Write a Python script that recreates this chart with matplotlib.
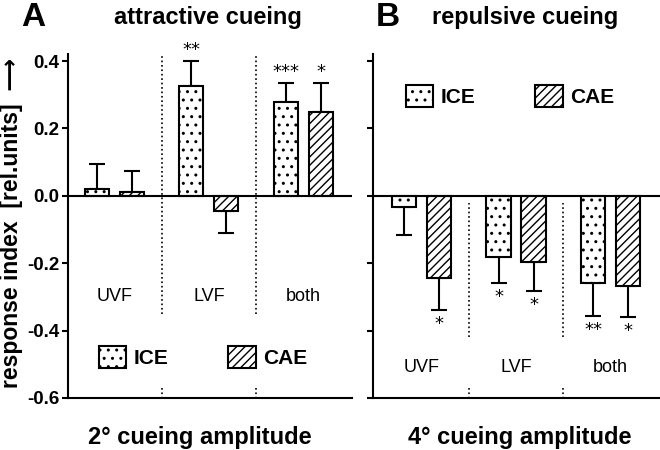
import numpy as np
import matplotlib
matplotlib.use("Agg")
import matplotlib.pyplot as plt
from matplotlib.patches import Patch

plt.rcParams["font.family"] = ["Liberation Sans", "DejaVu Sans"]
plt.rcParams["hatch.linewidth"] = 1.0

# ── data ──────────────────────────────────────────────────────────────────────
groups = ["UVF", "LVF", "both"]

att_ice     = [0.020, 0.326, 0.278]
att_ice_err = [0.075, 0.074, 0.057]
att_cae     = [0.012, -0.045, 0.250]
att_cae_err = [0.062, 0.065, 0.085]
att_ice_sig = ["", "**", "***"]
att_cae_sig = ["", "", "*"]

rep_ice     = [-0.033, -0.181, -0.258]
rep_ice_err = [0.082, 0.077, 0.100]
rep_cae     = [-0.243, -0.196, -0.267]
rep_cae_err = [0.095, 0.086, 0.094]
rep_ice_sig = ["", "*", "**"]
rep_cae_sig = ["*", "*", "*"]

# ── layout ────────────────────────────────────────────────────────────────────
GAP = 2.7
W = 0.69
x_ice = np.arange(3) * GAP
x_cae = x_ice + 1.0
x_div = (x_cae[:-1] + x_ice[1:]) / 2
YLIM = (-0.6, 0.42)
LW = 1.5

fig = plt.figure(figsize=(6.6, 4.5), dpi=100)
axA = fig.add_axes([0.103, 0.1156, 0.430, 0.7638])
axB = fig.add_axes([0.565, 0.1156, 0.435, 0.7638])


def draw_panel(ax, ice, ice_err, cae, cae_err, xlim):
    for xs, vals, errs, hatch in [(x_ice, ice, ice_err, ".."),
                                  (x_cae, cae, cae_err, "////")]:
        ax.bar(xs, vals, width=W, color="white", edgecolor="black",
               linewidth=LW, hatch=hatch, zorder=3)
        vals = np.array(vals)
        errs = np.array(errs)
        lower = np.where(vals < 0, errs, 0)
        upper = np.where(vals >= 0, errs, 0)
        ax.errorbar(xs, vals, yerr=[lower, upper], fmt="none",
                    ecolor="black", elinewidth=LW, capsize=6,
                    capthick=LW, zorder=2)
    ax.axhline(0, color="black", linewidth=LW, zorder=4)
    ax.set_xlim(*xlim)
    ax.set_ylim(*YLIM)
    ax.set_yticks([-0.6, -0.4, -0.2, 0.0, 0.2, 0.4])
    for s in ["top", "right"]:
        ax.spines[s].set_visible(False)
    for s in ["left", "bottom"]:
        ax.spines[s].set_linewidth(LW)
    ax.set_xticks([])
    ax.tick_params(axis="y", direction="out", length=4, width=LW, pad=2)


def stars(ax, xs, vals, errs, marks, fs=13):
    for x, v, e, m in zip(xs, vals, errs, marks):
        if not m:
            continue
        if v >= 0:
            ax.text(x, v + e + 0.005, m, ha="center", va="bottom",
                    fontsize=fs, family="DejaVu Sans")
        else:
            ax.text(x, v - e - 0.015, m, ha="center", va="top",
                    fontsize=fs, family="DejaVu Sans")


# ── Panel A ───────────────────────────────────────────────────────────────────
draw_panel(axA, att_ice, att_ice_err, att_cae, att_cae_err, (-0.83, 7.29))
axA.set_yticklabels(["-0.6", "-0.4", "-0.2", "0.0", "0.2", "0.4"],
                    fontsize=13.5, fontweight="bold")
stars(axA, x_ice, att_ice, att_ice_err, att_ice_sig)
stars(axA, x_cae, att_cae, att_cae_err, att_cae_sig)
for xd in x_div:
    axA.plot([xd, xd], [-0.35, 0.415], color="black", linestyle=":",
             linewidth=1.2, zorder=1)
    axA.plot([xd, xd], [-0.57, -0.6], color="black", linestyle=":",
             linewidth=1.2, zorder=1)
for xi, g in zip(x_ice, groups):
    axA.text(xi + 0.5, -0.3, g, ha="center", va="center", fontsize=13)

# ── Panel B ───────────────────────────────────────────────────────────────────
draw_panel(axB, rep_ice, rep_ice_err, rep_cae, rep_cae_err, (-0.886, 7.31))
axB.set_yticklabels([])
stars(axB, x_ice, rep_ice, rep_ice_err, rep_ice_sig)
stars(axB, x_cae, rep_cae, rep_cae_err, rep_cae_sig)
for xd in x_div:
    axB.plot([xd, xd], [-0.42, -0.02], color="black", linestyle=":",
             linewidth=1.2, zorder=1)
    axB.plot([xd, xd], [-0.57, -0.6], color="black", linestyle=":",
             linewidth=1.2, zorder=1)
for xi, g in zip(x_ice, groups):
    axB.text(xi + 0.5, -0.51, g, ha="center", va="center", fontsize=13)

# ── legends ───────────────────────────────────────────────────────────────────
handles = [Patch(facecolor="white", edgecolor="black", hatch="..",
                 linewidth=LW, label="ICE"),
           Patch(facecolor="white", edgecolor="black", hatch="////",
                 linewidth=LW, label="CAE")]
for ax, anchor in [(axA, (0.109, 0.119)), (axB, (0.115, 0.879))]:
    ax.legend(handles=handles, ncol=2, loc="center left",
              bbox_to_anchor=anchor, frameon=False, borderpad=0,
              borderaxespad=0, handlelength=1.3, handleheight=1.3,
              handletextpad=0.35, columnspacing=2.9,
              prop={"size": 15, "weight": "bold"})

# ── titles and labels ─────────────────────────────────────────────────────────
fig.text(0.051, 0.962, "A", fontsize=24, fontweight="bold",
         ha="center", va="center")
fig.text(0.315, 0.962, "attractive cueing", fontsize=17,
         fontweight="bold", ha="center", va="center")
fig.text(0.588, 0.962, "B", fontsize=24, fontweight="bold",
         ha="center", va="center")
fig.text(0.795, 0.962, "repulsive cueing", fontsize=17,
         fontweight="bold", ha="center", va="center")
fig.text(0.303, 0.028, "2° cueing amplitude", fontsize=17,
         fontweight="bold", ha="center", va="center")
fig.text(0.788, 0.028, "4° cueing amplitude", fontsize=17,
         fontweight="bold", ha="center", va="center")
fig.text(0.017, 0.505, "response index  [rel.units]  \u27f6", fontsize=16.5,
         fontweight="bold", rotation=90, ha="center", va="center")

fig.savefig("out.png", dpi=100)
